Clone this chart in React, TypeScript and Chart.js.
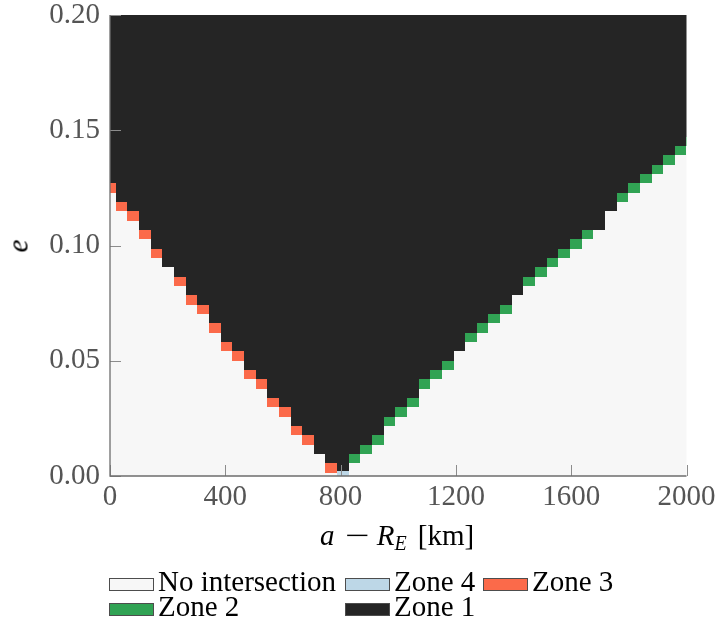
import React, { useEffect, useRef } from "react";
import { Chart, registerables } from "chart.js";

Chart.register(...registerables);

// ---- data ----
// column centres of the (a - R_E) grid, km
const aValues = [
  0, 40.4, 80.8, 121.2, 161.6, 202, 242.4, 282.8, 323.2, 363.6, 404, 444.4, 484.8,
  525.2, 565.6, 606, 646.4, 686.8, 727.2, 767.6, 808, 848.4, 888.8, 929.2, 969.6,
  1010, 1050.4, 1090.8, 1131.2, 1171.6, 1212, 1252.4, 1292.8, 1333.2, 1373.6, 1414,
  1454.4, 1494.8, 1535.2, 1575.6, 1616, 1656.4, 1696.8, 1737.2, 1777.6, 1818,
  1858.4, 1898.8, 1939.2, 1979.6, 2020,
];
// e at the centre of the lowest intersecting cell in each column
const boundaryE = [
  0.1249, 0.1168, 0.1128, 0.1047, 0.0966, 0.0925, 0.0844, 0.0764, 0.0723, 0.0642,
  0.0561, 0.0521, 0.044, 0.0399, 0.0318, 0.0278, 0.0197, 0.0156, 0.0116, 0.0035,
  0.0, 0.0076, 0.0116, 0.0156, 0.0237, 0.0278, 0.0318, 0.0399, 0.044, 0.048,
  0.0561, 0.0602, 0.0642, 0.0683, 0.0723, 0.0804, 0.0844, 0.0885, 0.0925, 0.0966,
  0.1006, 0.1047, 0.1087, 0.1168, 0.1209, 0.1249, 0.129, 0.133, 0.1371, 0.1411,
  0.1451,
];
// zone of that lowest intersecting cell (above it: zone 1, below it: no intersection)
const boundaryZone = [
  3, 3, 3, 3, 3, 1, 3, 3, 3, 3, 3, 3, 3, 3, 3, 3, 3, 3, 1, 3,
  4, 2, 2, 2, 2, 2, 2, 2, 2, 2, 1, 2, 2, 2, 2, 1, 2, 2, 2, 2,
  2, 2, 1, 1, 2, 2, 2, 2, 2, 2, 2,
];
const legendLabels = ["No intersection", "Zone 4", "Zone 3", "Zone 2", "Zone 1"];
const legendZones = [0, 4, 3, 2, 1];
const xTickValues = [0, 400, 800, 1200, 1600, 2000];
const yTickValues = [0, 0.05, 0.1, 0.15, 0.2];

// ---- grid geometry / style ----
const CELL_W = 40.4;
const CELL_H = 0.00405;
const X_MIN = 0, X_MAX = 2000, Y_MIN = 0, Y_MAX = 0.2;
const zoneColors: Record<number, string> = {
  0: "#f7f7f7",
  1: "#252525",
  2: "#31a354",
  3: "#fb6a4a",
  4: "#bdd7e7",
};
const SERIF = "'Liberation Serif', 'Times New Roman', serif";
const TICK_COLOR = "#555555";

const heatmapPlugin = {
  id: "heatmap",
  beforeDatasetsDraw(chart: any) {
    const { ctx, chartArea } = chart;
    const xs = chart.scales.x;
    const ys = chart.scales.y;
    ctx.save();
    ctx.beginPath();
    ctx.rect(chartArea.left, chartArea.top, chartArea.right - chartArea.left, chartArea.bottom - chartArea.top);
    ctx.clip();
    const rect = (x0: number, x1: number, e0: number, e1: number, color: string) => {
      const lo = Math.max(e0, Y_MIN), hi = Math.min(e1, Y_MAX);
      if (hi <= lo) return;
      const px0 = Math.round(xs.getPixelForValue(Math.max(x0, X_MIN)));
      const px1 = Math.round(xs.getPixelForValue(Math.min(x1, X_MAX)));
      const py0 = Math.round(ys.getPixelForValue(hi));
      const py1 = Math.round(ys.getPixelForValue(lo));
      if (px1 <= px0 || py1 <= py0) return;
      ctx.fillStyle = color;
      ctx.fillRect(px0, py0, px1 - px0, py1 - py0);
    };
    aValues.forEach((a, i) => {
      const x0 = a - CELL_W / 2, x1 = a + CELL_W / 2;
      const eb = boundaryE[i];
      const lo = eb - CELL_H / 2, hi = eb + CELL_H / 2;
      rect(x0, x1, Y_MIN, lo, zoneColors[0]);
      rect(x0, x1, lo, hi, zoneColors[boundaryZone[i]]);
      rect(x0, x1, hi, Y_MAX, zoneColors[1]);
    });
    ctx.restore();
  },
  afterDatasetsDraw(chart: any) {
    const { ctx, chartArea } = chart;
    const xs = chart.scales.x;
    const ys = chart.scales.y;
    ctx.save();
    ctx.strokeStyle = "#8c8c8c";
    ctx.lineWidth = 1;
    const TL = 11;
    xTickValues.forEach((v) => {
      const px = Math.round(xs.getPixelForValue(v)) + 0.5;
      ctx.beginPath();
      ctx.moveTo(px, chartArea.bottom);
      ctx.lineTo(px, chartArea.bottom - TL);
      ctx.stroke();
    });
    yTickValues.forEach((v) => {
      const py = Math.round(ys.getPixelForValue(v)) + 0.5;
      ctx.beginPath();
      ctx.moveTo(chartArea.left, py);
      ctx.lineTo(chartArea.left + TL, py);
      ctx.stroke();
    });
    ctx.strokeStyle = "#6e6e6e";
    ctx.lineWidth = 1.3;
    ctx.beginPath();
    ctx.moveTo(chartArea.left, chartArea.top);
    ctx.lineTo(chartArea.left, chartArea.bottom);
    ctx.lineTo(chartArea.right, chartArea.bottom);
    ctx.stroke();
    ctx.restore();
  },
};

export default function App() {
  const ref = useRef<HTMLCanvasElement>(null);
  useEffect(() => {
    const tickFont = { family: SERIF, size: 29 };
    const chart = new Chart(ref.current as HTMLCanvasElement, {
      type: "scatter",
      data: { datasets: [{ data: [] as any[], showLine: false }] },
      options: {
        responsive: false,
        animation: false,
        devicePixelRatio: 1,
        layout: { padding: { left: 0, right: 31.5, top: 15, bottom: 121 } },
        plugins: { legend: { display: false }, tooltip: { enabled: false } },
        scales: {
          x: {
            type: "linear",
            min: X_MIN,
            max: X_MAX,
            grid: { display: false, drawTicks: false },
            border: { display: false },
            afterBuildTicks: (s: any) => {
              s.ticks = xTickValues.map((v) => ({ value: v }));
            },
            ticks: {
              font: tickFont,
              color: TICK_COLOR,
              padding: 4,
              maxRotation: 0,
              autoSkip: false,
              callback: (v: any) => String(v),
            },
            afterFit: (s: any) => {
              s.height = 40;
              s.paddingLeft = 0;
              s.paddingRight = 0;
            },
          },
          y: {
            type: "linear",
            min: Y_MIN,
            max: Y_MAX,
            grid: { display: false, drawTicks: false },
            border: { display: false },
            afterBuildTicks: (s: any) => {
              s.ticks = yTickValues.map((v) => ({ value: v }));
            },
            ticks: {
              font: tickFont,
              color: TICK_COLOR,
              padding: 10,
              autoSkip: false,
              callback: (v: any) => Number(v).toFixed(2),
            },
            afterFit: (s: any) => {
              s.width = 110;
              s.paddingTop = 0;
              s.paddingBottom = 0;
            },
          },
        },
      },
      plugins: [heatmapPlugin],
    } as any);
    return () => chart.destroy();
  }, []);

  const legendPos = [
    { x: 109, y: 578 },
    { x: 345, y: 578 },
    { x: 483, y: 578 },
    { x: 109, y: 603 },
    { x: 345, y: 603 },
  ];

  const textBase: React.CSSProperties = {
    position: "absolute",
    fontFamily: SERIF,
    fontSize: 29,
    lineHeight: "29px",
    color: "#000",
    whiteSpace: "nowrap",
  };

  return (
    <div
      style={{
        position: "fixed",
        left: 0,
        top: 0,
        width: 718,
        height: 637,
        background: "#ffffff",
        overflow: "hidden",
      }}
    >
      <canvas
        ref={ref}
        width={718}
        height={637}
        style={{ position: "absolute", left: 0, top: 0, width: 718, height: 637 }}
      />
      {/* y-axis title */}
      <div
        style={{
          ...textBase,
          left: 18.4,
          top: 246,
          fontStyle: "italic",
          transform: "translate(-50%, -50%) rotate(-90deg)",
        }}
      >
        e
      </div>
      {/* x-axis title */}
      <div style={{ ...textBase, left: 320, top: 521 }}>
        <i>a</i>
        <span
          style={{
            display: "inline-block",
            marginLeft: 10,
            marginRight: 16,
            transform: "scaleX(1.5)",
            transformOrigin: "left center",
          }}
        >
          {"\u2212"}
        </span>
        <i>R</i>
        <span
          style={{
            fontStyle: "italic",
            fontSize: 20,
            lineHeight: 0,
            position: "relative",
            top: 5,
            marginRight: 11,
          }}
        >
          E
        </span>
        {"[km]"}
      </div>
      {/* legend */}
      {legendLabels.map((label, i) => (
        <React.Fragment key={label}>
          <div
            style={{
              position: "absolute",
              left: legendPos[i].x,
              top: legendPos[i].y,
              width: 45,
              height: 13,
              boxSizing: "border-box",
              border: "1px solid #4d4d4d",
              background: zoneColors[legendZones[i]],
            }}
          />
          <div style={{ ...textBase, left: legendPos[i].x + 49, top: legendPos[i].y + 13 - 24.3 }}>
            {label}
          </div>
        </React.Fragment>
      ))}
    </div>
  );
}
